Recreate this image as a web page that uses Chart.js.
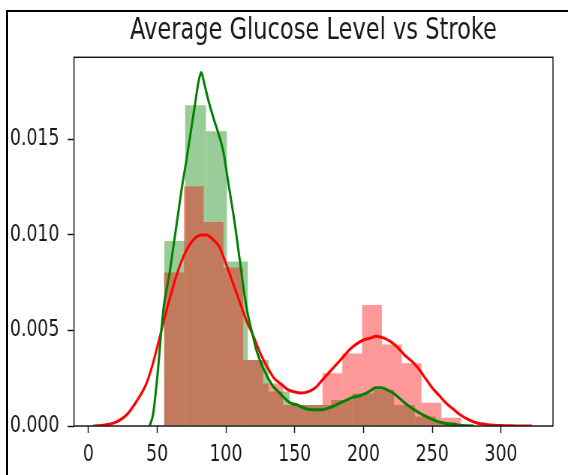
<!DOCTYPE html>
<html>
<head>
<meta charset="utf-8">
<script src="https://cdn.jsdelivr.net/npm/chart.js@4.4.1/dist/chart.umd.min.js"></script>
<style>
	html, body { margin: 0; padding: 0; background: #fff; }
	#page { position: relative; width: 568px; height: 475px; overflow: hidden; background: #fff; }
	#frame { position: absolute; left: 6px; top: 10px; width: 620px; height: 520px; border-left: 2px solid #000; border-top: 2px solid #000; }
	/* the picture is squeezed sideways, so draw wide and scale down */
	#wrap { position: absolute; left: 0; top: 0; width: 757px; height: 475px; transform: scaleX(0.7503); transform-origin: 0 0; }
</style>
</head>
<body>
<div id="page">
	<div id="frame"></div>
	<div id="wrap"><canvas id="glucoseChart"></canvas></div>
</div>
<script>
// ================================ [ Data ] ================================
const xTicks = [0, 50, 100, 150, 200, 250, 300];
const yTicks = [0, 0.005, 0.010, 0.015];

// stroke = 0 (green) histogram, density per bin
const noStrokeEdges = [55.1, 70.3, 85.5, 100.7, 115.9, 131.1, 146.3, 161.5, 176.6, 191.8, 207.0, 222.2, 237.4, 252.6, 267.8];
const noStrokeDensity = [0.00969, 0.01679, 0.01543, 0.00861, 0.00345, 0.0018, 0.0011, 0.0011, 0.00136, 0.0017, 0.0019, 0.0011, 0.0005, 0.0002];

// stroke = 1 (red) histogram
const strokeEdges = [55.0, 69.4, 83.8, 98.2, 112.6, 127.0, 141.4, 155.8, 170.2, 184.6, 199.0, 213.4, 227.8, 242.2, 256.6, 271.0];
const strokeDensity = [0.00804, 0.01255, 0.01068, 0.0083, 0.00345, 0.00223, 0.0011, 0.0011, 0.00276, 0.0038, 0.00633, 0.00427, 0.00328, 0.00122, 0.00043];

// kde curves
const noStrokeKdeX = [44.5, 47, 49, 51, 53, 55, 57, 59, 62, 65, 68, 71, 74, 77, 80, 82, 84, 87, 91, 95, 98, 102, 106, 110, 113, 116, 119, 122, 126, 130, 134, 138, 142, 147, 152, 158, 164, 170, 175, 180, 186, 192, 198, 204, 209, 213, 217, 222, 227, 232, 238, 244, 250, 256, 263, 270, 280];
const noStrokeKdeY = [0, 0.0006, 0.0018, 0.0033, 0.0050, 0.0064, 0.0072, 0.0080, 0.0095, 0.0110, 0.0125, 0.0138, 0.0152, 0.0166, 0.0180, 0.0185, 0.0180, 0.0171, 0.0161, 0.0152, 0.0144, 0.0126, 0.0108, 0.0087, 0.0071, 0.0058, 0.0049, 0.0040, 0.0032, 0.0026, 0.0021, 0.0018, 0.0015, 0.0012, 0.0011, 0.0009, 0.00085, 0.00085, 0.00095, 0.0011, 0.0013, 0.0015, 0.0016, 0.0018, 0.0020, 0.0020, 0.0019, 0.0017, 0.0014, 0.0011, 0.0008, 0.00055, 0.00035, 0.0002, 0.0001, 0.00004, 0];

const strokeKdeX = [3.5, 12, 20, 28, 35, 42, 47, 52, 57, 62, 67, 72, 77, 82, 86, 90, 95, 100, 105, 110, 115, 120, 125, 130, 135, 140, 145, 150, 155, 160, 165, 170, 175, 180, 185, 190, 195, 200, 205, 209, 215, 220, 225, 230, 235, 240, 245, 250, 255, 260, 265, 270, 276, 282, 290, 300, 310, 322.5];
const strokeKdeY = [0, 0.00005, 0.0002, 0.0006, 0.0013, 0.0022, 0.0033, 0.0047, 0.0061, 0.0074, 0.0085, 0.0093, 0.0098, 0.0100, 0.0100, 0.0098, 0.0094, 0.0085, 0.0075, 0.0065, 0.0055, 0.0047, 0.0038, 0.0031, 0.0025, 0.0022, 0.0019, 0.00178, 0.00173, 0.0018, 0.0020, 0.0024, 0.0028, 0.0032, 0.0036, 0.0040, 0.0043, 0.0045, 0.0046, 0.0047, 0.0046, 0.0044, 0.0041, 0.0037, 0.0034, 0.0030, 0.0025, 0.0020, 0.0016, 0.0012, 0.0009, 0.0006, 0.00035, 0.00017, 0.00007, 0.00002, 0.000005, 0];

// ================================ [ Helpers ] ================================
const toBins = (edges, dens) => dens.map((d, i) => ({x: (edges[i] + edges[i + 1]) / 2, y: d}));
const toLine = (xs, ys) => xs.map((x, i) => ({x: x, y: ys[i]}));

const FONT = "'DejaVu Sans', sans-serif";
const INK = "#1a1a1a";

// matplotlib style box around the axes
const axesFrame = {
	id: "axesFrame",
	afterDraw(chart) {
		const {ctx, chartArea: a} = chart;
		ctx.save();
		ctx.strokeStyle = INK;
		ctx.lineWidth = 1.5;
		ctx.strokeRect(a.left, a.top, a.right - a.left, a.bottom - a.top);
		ctx.restore();
	}
};

const xAxisBase = {
	type: "linear",
	min: -10.5,
	max: 337.8,
	offset: false,
	afterBuildTicks: (s) => { s.ticks = xTicks.map(v => ({value: v})); }
};

new Chart(document.getElementById("glucoseChart"), {
	type: "line",
	data: {
		datasets: [
			{
				type: "line",
				data: toLine(noStrokeKdeX, noStrokeKdeY),
				xAxisID: "x",
				borderColor: "#008000",
				borderWidth: 3,
				pointRadius: 0,
				cubicInterpolationMode: "monotone",
				fill: false,
				order: 0
			},
			{
				type: "line",
				data: toLine(strokeKdeX, strokeKdeY),
				xAxisID: "x",
				borderColor: "#ff0000",
				borderWidth: 3,
				pointRadius: 0,
				cubicInterpolationMode: "monotone",
				fill: false,
				order: 1
			},
			{
				type: "bar",
				data: toBins(strokeEdges, strokeDensity),
				xAxisID: "xr",
				backgroundColor: "rgba(255, 0, 0, 0.4)",
				borderWidth: 0,
				inflateAmount: 0,
				grouped: false,
				categoryPercentage: 1,
				barPercentage: 1,
				order: 2
			},
			{
				type: "bar",
				data: toBins(noStrokeEdges, noStrokeDensity),
				xAxisID: "x",
				backgroundColor: "rgba(0, 128, 0, 0.4)",
				borderWidth: 0,
				inflateAmount: 0,
				grouped: false,
				categoryPercentage: 1,
				barPercentage: 1,
				order: 3
			}
		]
	},
	options: {
		responsive: true,
		maintainAspectRatio: false,
		animation: false,
		devicePixelRatio: 1,
		layout: { padding: { left: 0, right: 20, top: 0, bottom: 0 } },
		plugins: {
			legend: { display: false },
			tooltip: { enabled: false },
			title: {
				display: true,
				text: "Average Glucose Level vs Stroke",
				fullSize: false,
				color: INK,
				font: { family: FONT, size: 30, weight: "normal", lineHeight: 1.2 },
				padding: { top: 13, bottom: 8.3 }
			}
		},
		scales: {
			x: {
				...xAxisBase,
				grid: { display: true, offset: false, drawOnChartArea: false, drawTicks: true, tickLength: 7, tickWidth: 1.5, tickColor: INK },
				border: { display: false },
				ticks: { font: { family: FONT, size: 23 }, color: INK, padding: 8, maxRotation: 0, autoSkip: false },
				afterFit: (s) => { s.height = 49; }
			},
			xr: {
				...xAxisBase,
				display: false,
				grid: { offset: false }
			},
			y: {
				type: "linear",
				min: 0,
				max: 0.0193,
				afterBuildTicks: (s) => { s.ticks = yTicks.map(v => ({value: v})); },
				grid: { display: true, drawOnChartArea: false, drawTicks: true, tickLength: 8.5, tickWidth: 1.5, tickColor: INK },
				border: { display: false },
				ticks: {
					font: { family: FONT, size: 23 },
					color: INK,
					padding: 11,
					callback: (v) => v.toFixed(3)
				},
				afterFit: (s) => { s.width = 98.6; }
			}
		}
	},
	plugins: [axesFrame]
});
</script>
</body>
</html>
